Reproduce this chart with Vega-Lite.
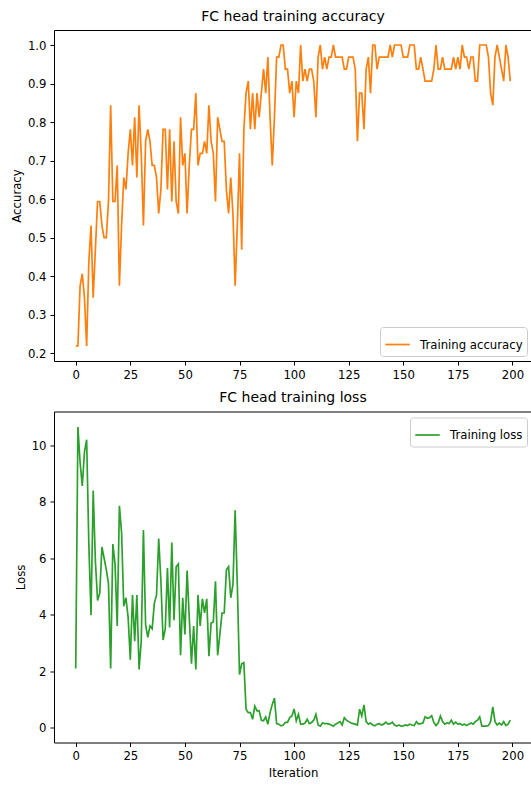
{
  "$schema": "https://vega.github.io/schema/vega-lite/v6.json",
  "padding": {"left": 10, "top": 9, "right": 0, "bottom": 0},
  "background": "white",
  "config": {
    "font": "DejaVu Sans",
    "view": {"stroke": "black", "strokeWidth": 1},
    "axis": {"domain": false, "grid": false, "tickColor": "black", "tickSize": 4, "tickWidth": 1, "labelPadding": 4, "labelFontSize": 11.7, "labelColor": "black", "titleFontSize": 11.7, "titleFontWeight": "normal", "titleColor": "black", "titlePadding": 5, "labelFlush": false},
    "title": {"fontSize": 14, "fontWeight": "normal", "color": "black", "baseline": "alphabetic", "offset": 6.5},
    "legend": {"labelFontSize": 11.7, "labelColor": "black", "symbolStrokeWidth": 1.7, "symbolSize": 600, "padding": 4, "strokeColor": "#cccccc", "fillColor": "rgba(255,255,255,0.8)", "cornerRadius": 3, "offset": 5.5, "labelOffset": 9}
  },
  "datasets": {
    "train": [
      {"iteration": 0, "accuracy": 0.21875, "loss": 2.09},
      {"iteration": 1, "accuracy": 0.21875, "loss": 10.65},
      {"iteration": 2, "accuracy": 0.375, "loss": 9.4},
      {"iteration": 3, "accuracy": 0.40625, "loss": 8.56},
      {"iteration": 4, "accuracy": 0.34375, "loss": 9.76},
      {"iteration": 5, "accuracy": 0.21875, "loss": 10.2},
      {"iteration": 6, "accuracy": 0.4375, "loss": 6.5},
      {"iteration": 7, "accuracy": 0.53125, "loss": 3.98},
      {"iteration": 8, "accuracy": 0.34375, "loss": 8.4},
      {"iteration": 9, "accuracy": 0.46875, "loss": 5.9},
      {"iteration": 10, "accuracy": 0.59375, "loss": 4.5},
      {"iteration": 11, "accuracy": 0.59375, "loss": 4.76},
      {"iteration": 12, "accuracy": 0.53125, "loss": 6.4},
      {"iteration": 13, "accuracy": 0.5, "loss": 6.0},
      {"iteration": 14, "accuracy": 0.5, "loss": 5.6},
      {"iteration": 15, "accuracy": 0.59375, "loss": 5.1},
      {"iteration": 16, "accuracy": 0.84375, "loss": 2.09},
      {"iteration": 17, "accuracy": 0.59375, "loss": 6.5},
      {"iteration": 18, "accuracy": 0.59375, "loss": 5.8},
      {"iteration": 19, "accuracy": 0.6875, "loss": 3.6},
      {"iteration": 20, "accuracy": 0.375, "loss": 7.86},
      {"iteration": 21, "accuracy": 0.53125, "loss": 6.9},
      {"iteration": 22, "accuracy": 0.65625, "loss": 4.3},
      {"iteration": 23, "accuracy": 0.625, "loss": 4.6},
      {"iteration": 24, "accuracy": 0.71875, "loss": 3.9},
      {"iteration": 25, "accuracy": 0.78125, "loss": 2.4},
      {"iteration": 26, "accuracy": 0.6875, "loss": 4.7},
      {"iteration": 27, "accuracy": 0.8125, "loss": 3.06},
      {"iteration": 28, "accuracy": 0.65625, "loss": 4.7},
      {"iteration": 29, "accuracy": 0.84375, "loss": 2.06},
      {"iteration": 30, "accuracy": 0.71875, "loss": 3.06},
      {"iteration": 31, "accuracy": 0.53125, "loss": 7.0},
      {"iteration": 32, "accuracy": 0.75, "loss": 3.65},
      {"iteration": 33, "accuracy": 0.78125, "loss": 3.2},
      {"iteration": 34, "accuracy": 0.75, "loss": 3.6},
      {"iteration": 35, "accuracy": 0.6875, "loss": 3.5},
      {"iteration": 36, "accuracy": 0.6875, "loss": 4.4},
      {"iteration": 37, "accuracy": 0.65625, "loss": 4.7},
      {"iteration": 38, "accuracy": 0.5625, "loss": 6.7},
      {"iteration": 39, "accuracy": 0.625, "loss": 5.2},
      {"iteration": 40, "accuracy": 0.78125, "loss": 3.1},
      {"iteration": 41, "accuracy": 0.78125, "loss": 3.5},
      {"iteration": 42, "accuracy": 0.625, "loss": 5.65},
      {"iteration": 43, "accuracy": 0.78125, "loss": 3.55},
      {"iteration": 44, "accuracy": 0.59375, "loss": 6.56},
      {"iteration": 45, "accuracy": 0.75, "loss": 3.8},
      {"iteration": 46, "accuracy": 0.59375, "loss": 5.7},
      {"iteration": 47, "accuracy": 0.5625, "loss": 5.8},
      {"iteration": 48, "accuracy": 0.8125, "loss": 2.56},
      {"iteration": 49, "accuracy": 0.6875, "loss": 4.6},
      {"iteration": 50, "accuracy": 0.71875, "loss": 3.3},
      {"iteration": 51, "accuracy": 0.5625, "loss": 5.56},
      {"iteration": 52, "accuracy": 0.6875, "loss": 3.9},
      {"iteration": 53, "accuracy": 0.78125, "loss": 2.26},
      {"iteration": 54, "accuracy": 0.78125, "loss": 3.6},
      {"iteration": 55, "accuracy": 0.875, "loss": 2.06},
      {"iteration": 56, "accuracy": 0.6875, "loss": 4.7},
      {"iteration": 57, "accuracy": 0.71875, "loss": 3.6},
      {"iteration": 58, "accuracy": 0.71875, "loss": 4.56},
      {"iteration": 59, "accuracy": 0.75, "loss": 4.06},
      {"iteration": 60, "accuracy": 0.71875, "loss": 4.56},
      {"iteration": 61, "accuracy": 0.84375, "loss": 2.53},
      {"iteration": 62, "accuracy": 0.75, "loss": 3.7},
      {"iteration": 63, "accuracy": 0.71875, "loss": 3.74},
      {"iteration": 64, "accuracy": 0.59375, "loss": 5.18},
      {"iteration": 65, "accuracy": 0.8125, "loss": 2.56},
      {"iteration": 66, "accuracy": 0.78125, "loss": 3.3},
      {"iteration": 67, "accuracy": 0.75, "loss": 4.06},
      {"iteration": 68, "accuracy": 0.75, "loss": 4.06},
      {"iteration": 69, "accuracy": 0.625, "loss": 5.59},
      {"iteration": 70, "accuracy": 0.5625, "loss": 5.7},
      {"iteration": 71, "accuracy": 0.65625, "loss": 4.6},
      {"iteration": 72, "accuracy": 0.5625, "loss": 5.06},
      {"iteration": 73, "accuracy": 0.375, "loss": 7.7},
      {"iteration": 74, "accuracy": 0.53125, "loss": 5.06},
      {"iteration": 75, "accuracy": 0.71875, "loss": 1.88},
      {"iteration": 76, "accuracy": 0.46875, "loss": 2.26},
      {"iteration": 77, "accuracy": 0.78125, "loss": 2.3},
      {"iteration": 78, "accuracy": 0.875, "loss": 0.65},
      {"iteration": 79, "accuracy": 0.90625, "loss": 0.53},
      {"iteration": 80, "accuracy": 0.78125, "loss": 0.53},
      {"iteration": 81, "accuracy": 0.875, "loss": 0.29},
      {"iteration": 82, "accuracy": 0.78125, "loss": 0.76},
      {"iteration": 83, "accuracy": 0.875, "loss": 0.59},
      {"iteration": 84, "accuracy": 0.8125, "loss": 0.6},
      {"iteration": 85, "accuracy": 0.875, "loss": 0.26},
      {"iteration": 86, "accuracy": 0.9375, "loss": 0.24},
      {"iteration": 87, "accuracy": 0.875, "loss": 0.38},
      {"iteration": 88, "accuracy": 0.96875, "loss": 0.12},
      {"iteration": 89, "accuracy": 0.8125, "loss": 0.53},
      {"iteration": 90, "accuracy": 0.6875, "loss": 0.82},
      {"iteration": 91, "accuracy": 0.8125, "loss": 1.04},
      {"iteration": 92, "accuracy": 0.96875, "loss": 0.14},
      {"iteration": 93, "accuracy": 0.96875, "loss": 0.12},
      {"iteration": 94, "accuracy": 1.0, "loss": 0.06},
      {"iteration": 95, "accuracy": 1.0, "loss": 0.09},
      {"iteration": 96, "accuracy": 0.9375, "loss": 0.18},
      {"iteration": 97, "accuracy": 0.9375, "loss": 0.18},
      {"iteration": 98, "accuracy": 0.875, "loss": 0.35},
      {"iteration": 99, "accuracy": 0.90625, "loss": 0.41},
      {"iteration": 100, "accuracy": 0.8125, "loss": 0.66},
      {"iteration": 101, "accuracy": 0.90625, "loss": 0.24},
      {"iteration": 102, "accuracy": 0.875, "loss": 0.47},
      {"iteration": 103, "accuracy": 1.0, "loss": 0.12},
      {"iteration": 104, "accuracy": 0.90625, "loss": 0.12},
      {"iteration": 105, "accuracy": 0.9375, "loss": 0.16},
      {"iteration": 106, "accuracy": 0.90625, "loss": 0.29},
      {"iteration": 107, "accuracy": 0.9375, "loss": 0.14},
      {"iteration": 108, "accuracy": 0.9375, "loss": 0.18},
      {"iteration": 109, "accuracy": 0.90625, "loss": 0.26},
      {"iteration": 110, "accuracy": 0.8125, "loss": 0.47},
      {"iteration": 111, "accuracy": 0.96875, "loss": 0.09},
      {"iteration": 112, "accuracy": 1.0, "loss": 0.05},
      {"iteration": 113, "accuracy": 0.9375, "loss": 0.16},
      {"iteration": 114, "accuracy": 0.96875, "loss": 0.14},
      {"iteration": 115, "accuracy": 0.9375, "loss": 0.14},
      {"iteration": 116, "accuracy": 0.96875, "loss": 0.12},
      {"iteration": 117, "accuracy": 0.96875, "loss": 0.09},
      {"iteration": 118, "accuracy": 1.0, "loss": 0.05},
      {"iteration": 119, "accuracy": 0.96875, "loss": 0.12},
      {"iteration": 120, "accuracy": 0.96875, "loss": 0.16},
      {"iteration": 121, "accuracy": 0.96875, "loss": 0.21},
      {"iteration": 122, "accuracy": 0.96875, "loss": 0.09},
      {"iteration": 123, "accuracy": 0.9375, "loss": 0.35},
      {"iteration": 124, "accuracy": 0.9375, "loss": 0.26},
      {"iteration": 125, "accuracy": 0.96875, "loss": 0.21},
      {"iteration": 126, "accuracy": 0.96875, "loss": 0.16},
      {"iteration": 127, "accuracy": 0.96875, "loss": 0.14},
      {"iteration": 128, "accuracy": 0.9375, "loss": 0.12},
      {"iteration": 129, "accuracy": 0.75, "loss": 0.09},
      {"iteration": 130, "accuracy": 0.875, "loss": 0.65},
      {"iteration": 131, "accuracy": 0.875, "loss": 0.41},
      {"iteration": 132, "accuracy": 0.78125, "loss": 0.8},
      {"iteration": 133, "accuracy": 0.9375, "loss": 0.21},
      {"iteration": 134, "accuracy": 0.96875, "loss": 0.12},
      {"iteration": 135, "accuracy": 0.875, "loss": 0.16},
      {"iteration": 136, "accuracy": 1.0, "loss": 0.09},
      {"iteration": 137, "accuracy": 1.0, "loss": 0.06},
      {"iteration": 138, "accuracy": 0.9375, "loss": 0.12},
      {"iteration": 139, "accuracy": 0.96875, "loss": 0.14},
      {"iteration": 140, "accuracy": 0.96875, "loss": 0.09},
      {"iteration": 141, "accuracy": 0.96875, "loss": 0.12},
      {"iteration": 142, "accuracy": 0.96875, "loss": 0.19},
      {"iteration": 143, "accuracy": 0.96875, "loss": 0.12},
      {"iteration": 144, "accuracy": 1.0, "loss": 0.14},
      {"iteration": 145, "accuracy": 0.96875, "loss": 0.19},
      {"iteration": 146, "accuracy": 1.0, "loss": 0.09},
      {"iteration": 147, "accuracy": 1.0, "loss": 0.05},
      {"iteration": 148, "accuracy": 1.0, "loss": 0.09},
      {"iteration": 149, "accuracy": 1.0, "loss": 0.05},
      {"iteration": 150, "accuracy": 0.96875, "loss": 0.06},
      {"iteration": 151, "accuracy": 0.96875, "loss": 0.09},
      {"iteration": 152, "accuracy": 0.96875, "loss": 0.07},
      {"iteration": 153, "accuracy": 1.0, "loss": 0.12},
      {"iteration": 154, "accuracy": 1.0, "loss": 0.09},
      {"iteration": 155, "accuracy": 1.0, "loss": 0.07},
      {"iteration": 156, "accuracy": 0.9375, "loss": 0.21},
      {"iteration": 157, "accuracy": 0.9375, "loss": 0.12},
      {"iteration": 158, "accuracy": 0.96875, "loss": 0.14},
      {"iteration": 159, "accuracy": 0.9375, "loss": 0.16},
      {"iteration": 160, "accuracy": 0.90625, "loss": 0.38},
      {"iteration": 161, "accuracy": 0.90625, "loss": 0.33},
      {"iteration": 162, "accuracy": 0.90625, "loss": 0.35},
      {"iteration": 163, "accuracy": 0.90625, "loss": 0.42},
      {"iteration": 164, "accuracy": 0.9375, "loss": 0.18},
      {"iteration": 165, "accuracy": 1.0, "loss": 0.07},
      {"iteration": 166, "accuracy": 0.9375, "loss": 0.16},
      {"iteration": 167, "accuracy": 0.9375, "loss": 0.41},
      {"iteration": 168, "accuracy": 0.96875, "loss": 0.21},
      {"iteration": 169, "accuracy": 0.9375, "loss": 0.12},
      {"iteration": 170, "accuracy": 0.9375, "loss": 0.16},
      {"iteration": 171, "accuracy": 0.9375, "loss": 0.14},
      {"iteration": 172, "accuracy": 0.9375, "loss": 0.26},
      {"iteration": 173, "accuracy": 0.96875, "loss": 0.12},
      {"iteration": 174, "accuracy": 0.9375, "loss": 0.19},
      {"iteration": 175, "accuracy": 0.96875, "loss": 0.12},
      {"iteration": 176, "accuracy": 0.9375, "loss": 0.14},
      {"iteration": 177, "accuracy": 1.0, "loss": 0.09},
      {"iteration": 178, "accuracy": 0.96875, "loss": 0.12},
      {"iteration": 179, "accuracy": 0.96875, "loss": 0.07},
      {"iteration": 180, "accuracy": 0.9375, "loss": 0.12},
      {"iteration": 181, "accuracy": 0.96875, "loss": 0.16},
      {"iteration": 182, "accuracy": 0.96875, "loss": 0.12},
      {"iteration": 183, "accuracy": 0.90625, "loss": 0.21},
      {"iteration": 184, "accuracy": 0.90625, "loss": 0.26},
      {"iteration": 185, "accuracy": 1.0, "loss": 0.38},
      {"iteration": 186, "accuracy": 1.0, "loss": 0.05},
      {"iteration": 187, "accuracy": 1.0, "loss": 0.05},
      {"iteration": 188, "accuracy": 1.0, "loss": 0.05},
      {"iteration": 189, "accuracy": 0.96875, "loss": 0.07},
      {"iteration": 190, "accuracy": 0.875, "loss": 0.21},
      {"iteration": 191, "accuracy": 0.84375, "loss": 0.73},
      {"iteration": 192, "accuracy": 0.96875, "loss": 0.21},
      {"iteration": 193, "accuracy": 1.0, "loss": 0.09},
      {"iteration": 194, "accuracy": 0.96875, "loss": 0.16},
      {"iteration": 195, "accuracy": 0.9375, "loss": 0.09},
      {"iteration": 196, "accuracy": 0.90625, "loss": 0.21},
      {"iteration": 197, "accuracy": 1.0, "loss": 0.07},
      {"iteration": 198, "accuracy": 0.96875, "loss": 0.12},
      {"iteration": 199, "accuracy": 0.90625, "loss": 0.26}
    ]
  },
  "spacing": 8.5,
  "resolve": {"scale": {"color": "independent"}, "legend": {"color": "independent"}},
  "vconcat": [
    {
      "title": "FC head training accuracy",
      "width": 478,
      "height": 331,
      "data": {"name": "train"},
      "mark": {"type": "line", "strokeWidth": 1.7},
      "encoding": {
        "x": {"field": "iteration", "type": "quantitative", "scale": {"domain": [-9.95, 208.95], "nice": false, "zero": false}, "axis": {"title": null, "values": [0, 25, 50, 75, 100, 125, 150, 175, 200]}},
        "y": {"field": "accuracy", "type": "quantitative", "scale": {"domain": [0.1797, 1.039], "nice": false, "zero": false}, "axis": {"title": "Accuracy", "values": [0.2, 0.3, 0.4, 0.5, 0.6, 0.7, 0.8, 0.9, 1.0], "format": ".1f"}},
        "color": {"datum": "Training accuracy", "type": "nominal", "scale": {"range": ["#ff7f0e"]}, "legend": {"title": null, "orient": "bottom-right"}}
      }
    },
    {
      "title": "FC head training loss",
      "width": 478,
      "height": 331,
      "data": {"name": "train"},
      "mark": {"type": "line", "strokeWidth": 1.7},
      "encoding": {
        "x": {"field": "iteration", "type": "quantitative", "scale": {"domain": [-9.95, 208.95], "nice": false, "zero": false}, "axis": {"title": "Iteration", "values": [0, 25, 50, 75, 100, 125, 150, 175, 200]}},
        "y": {"field": "loss", "type": "quantitative", "scale": {"domain": [-0.53, 11.2], "nice": false, "zero": false}, "axis": {"title": "Loss", "values": [0, 2, 4, 6, 8, 10]}},
        "color": {"datum": "Training loss", "type": "nominal", "scale": {"range": ["#2ca02c"]}, "legend": {"title": null, "orient": "top-right"}}
      }
    }
  ]
}
